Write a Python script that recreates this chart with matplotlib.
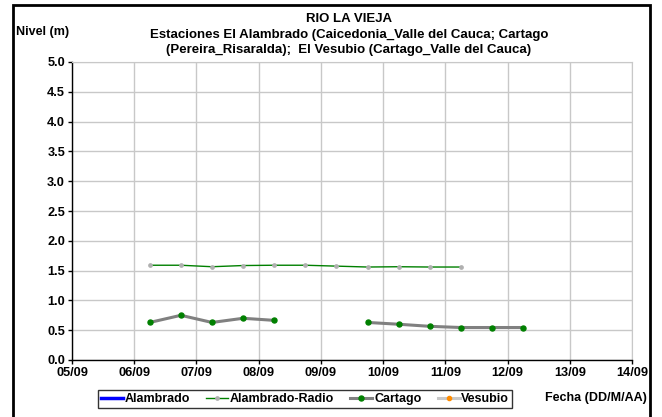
import matplotlib
matplotlib.use("Agg")
import matplotlib.pyplot as plt
import numpy as np
from matplotlib.patches import Rectangle

plt.rcParams['font.family'] = ['Liberation Sans', 'DejaVu Sans']
plt.rcParams['font.weight'] = 'bold'

# dias contados desde 05/09 (0.25 = 06:00, 0.75 = 18:00)
fechas = ['05/09', '06/09', '07/09', '08/09', '09/09', '10/09', '11/09', '12/09', '13/09', '14/09']

t_radio = [1.25, 1.75, 2.25, 2.75, 3.25, 3.75, 4.25, 4.75, 5.25, 5.75, 6.25]
nivel_radio = [1.59, 1.59, 1.565, 1.585, 1.59, 1.59, 1.575, 1.56, 1.565, 1.56, 1.56]

t_cartago = [1.25, 1.75, 2.25, 2.75, 3.25, 3.75, 4.25, 4.75, 5.25, 5.75, 6.25, 6.75, 7.25]
nivel_cartago = [0.63, 0.75, 0.63, 0.70, 0.665, np.nan, np.nan, 0.63, 0.60, 0.565, 0.545, 0.545, 0.545]

t_alambrado = []
nivel_alambrado = []
t_vesubio = []
nivel_vesubio = []

fig = plt.figure(figsize=(6.62, 4.17), dpi=100)
ax = fig.add_axes([72/662, 1 - 360/417, 560/662, 298/417])

ax.plot(t_alambrado, nivel_alambrado, color='#0000ff', lw=2.5, label='Alambrado')
ax.plot(t_radio, nivel_radio, color='#008000', lw=1, marker='o', ms=2.4,
        mfc='#b0b0b0', mec='#b0b0b0', label='Alambrado-Radio')
ax.plot(t_cartago, nivel_cartago, color='#808080', lw=2.2, marker='o', ms=3.6,
        mfc='#008000', mec='#008000', label='Cartago')
ax.plot(t_vesubio, nivel_vesubio, color='#c8c8c8', lw=2.2, marker='o', ms=3,
        mfc='#ff8c00', mec='#ff8c00', label='Vesubio')

ax.set_xlim(0, 9)
ax.set_ylim(0, 5)
ax.set_xticks(range(len(fechas)))
ax.set_xticklabels(fechas)
ax.set_yticks(np.arange(0, 5.01, 0.5))
ax.set_yticklabels(['%.1f' % v for v in np.arange(0, 5.01, 0.5)])
ax.grid(True, color='#c8c8c8', lw=1)
ax.set_axisbelow(True)
ax.tick_params(labelsize=9.2, length=3, width=1, color='black', pad=2)
for s in ['top', 'right']:
    ax.spines[s].set_color('#c8c8c8')
for s in ['left', 'bottom']:
    ax.spines[s].set_color('black')
    ax.spines[s].set_linewidth(1)
for lab in ax.get_xticklabels() + ax.get_yticklabels():
    lab.set_fontweight('bold')

fig.text(349/662, 1 - 19/417, 'RIO LA VIEJA', ha='center', va='center', fontsize=9.5, fontweight='bold')
fig.text(349/662, 1 - 35/417, 'Estaciones El Alambrado (Caicedonia_Valle del Cauca; Cartago',
         ha='center', va='center', fontsize=9.5, fontweight='bold')
fig.text(349/662, 1 - 50/417, '(Pereira_Risaralda);  El Vesubio (Cartago_Valle del Cauca)',
         ha='center', va='center', fontsize=9.5, fontweight='bold')
fig.text(16/662, 1 - 32/417, 'Nivel (m)', ha='left', va='center', fontsize=9, fontweight='bold')
fig.text(545/662, 1 - 398/417, 'Fecha (DD/M/AA)', ha='left', va='center', fontsize=9, fontweight='bold')

leg = fig.legend(loc='center', bbox_to_anchor=(305/662, 1 - 399/417), ncol=4, fontsize=9,
                 frameon=True, fancybox=False, edgecolor='black', handlelength=1.75,
                 handletextpad=0.15, columnspacing=1.3, borderpad=0.25)
leg.get_frame().set_linewidth(1)

fig.patches.append(Rectangle((13/662, -0.1), 637/662, 1.1 - 5/417, transform=fig.transFigure,
                             fill=False, edgecolor='black', lw=2))

fig.savefig('out.png', dpi=100)
